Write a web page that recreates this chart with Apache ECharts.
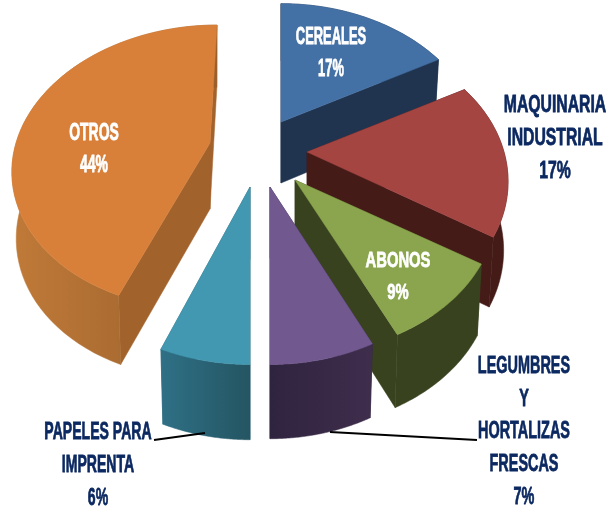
<!DOCTYPE html>
<html><head><meta charset="utf-8">
<script src="https://cdn.jsdelivr.net/npm/echarts@6/dist/echarts.min.js"></script>
<style>html,body{margin:0;padding:0;background:#fff}#c{width:608px;height:511px;filter:blur(0.5px)}</style>
</head><body><div id="c"></div>
<script>
// ---- data ----
const categories = ['CEREALES','MAQUINARIA INDUSTRIAL','ABONOS','LEGUMBRES Y HORTALIZAS FRESCAS','PAPELES PARA IMPRENTA','OTROS'];
const values = [17,17,9,7,6,44];
const labelLines = [['CEREALES','17%'],['MAQUINARIA','INDUSTRIAL','17%'],['ABONOS','9%'],['LEGUMBRES','Y','HORTALIZAS','FRESCAS','7%'],['PAPELES PARA','IMPRENTA','6%'],['OTROS','44%']];
// ---- look ----
const topColors = ['#4471a5','#a54542','#8aa54d','#71588f','#4198b0','#d8803a'];
const cutColors = ['#20344f','#451b18','#38421f','#2f2440','#2a6478','#a2622c'];
const rimColors = [['#20344f','#20344f'],['#451b18','#451b18'],['#38421f','#38421f'],['#2f2440','#3f2d4c'],['#2f7086','#245562'],['#c07a38','#985f2c']];
const textColors = ['#ffffff','#0b2860','#ffffff','#0b2860','#0b2860','#ffffff'];
// explode centre of every slice, perspective of the tilted disc
const apexX = [281,307,295,270,250,210];
const apexY = [122,152,180,187,187,143];
const skewX = [0,0,0,0,0,7];
const radX = [197,197,197,197,197,194];
const radY = [142,142,140,142,142,138];
const persp = [0.2,0.2,0.2,0.2,0.2,0.17];
const depth = [61,68,70,71,72,66];
const DEPTH_V = 5, LOW_SCALE = 0.978;
const labelX = [331,555,398,524,98,94];
const labelY = [37,105,261,366,432,133];
const labelGap = [32,33,32,32.7,33,32];
const labelSize = [17,19,17,19,19,17];
const labelScaleX = [0.76,0.83,0.87,0.76,0.74,0.82];
const labelScaleY = [1.4,1.3,1.35,1.3,1.3,1.45];
const leaderA = [null,null,null,[330,432],[205,433],null];
const leaderB = [null,null,null,[477,440],[154,440],null];

function project(i,deg){
  const t=deg*Math.PI/180,u=Math.sin(t),v=Math.cos(t),w=1+persp[i]*v;
  return {x:radX[i]*u/w+skewX[i]*v, y:-radY[i]*v/w, v};
}
function topPt(i,deg){const p=project(i,deg);return [apexX[i]+p.x,apexY[i]+p.y];}
function lowPt(i,deg){const p=project(i,deg);return [apexX[i]+p.x*LOW_SCALE,apexY[i]+p.y*0.99+depth[i]-DEPTH_V*p.v];}
const total=values.reduce((a,b)=>a+b,0);

function renderItem(params,api){
  const i=params.dataIndex;
  let a0=0;for(let k=0;k<i;k++)a0+=values[k]/total*360;
  const a1=a0+api.value(0)/total*360;
  const arcT=[],arcB=[];
  for(let s=0;s<=60;s++){const d=a0+(a1-a0)*s/60;arcT.push(topPt(i,d));arcB.push(lowPt(i,d));}
  const ax=apexX[i],ay=apexY[i],low=[ax,ay+depth[i]];
  const children=[];
  const poly=(pts,fill)=>children.push({type:'polygon',shape:{points:pts},style:{fill,stroke:fill,lineWidth:0.5}});
  const rim=()=>poly(arcT.concat(arcB.slice().reverse()),new echarts.graphic.LinearGradient(0,0,1,0,[{offset:0,color:rimColors[i][0]},{offset:1,color:rimColors[i][1]}]));
  // the slice on the far side shows its rim behind the cut faces, all others in front of them
  if(a0===0&&a1<180)rim();
  poly([[ax,ay],low,arcB[0],arcT[0]],cutColors[i]);
  poly([[ax,ay],low,arcB[60],arcT[60]],cutColors[i]);
  if(!(a0===0&&a1<180))rim();
  poly([[ax,ay]].concat(arcT),topColors[i]);
  if(leaderA[i])children.push({type:'polyline',shape:{points:[leaderA[i],leaderB[i]]},style:{stroke:'#000',lineWidth:2,fill:null}});
  labelLines[i].forEach((line,n)=>{
    children.push({type:'text',x:labelX[i],y:labelY[i]+n*labelGap[i],scaleX:labelScaleX[i],scaleY:labelScaleY[i],
      style:{text:line,fontFamily:'"Liberation Sans Narrow","Liberation Sans",sans-serif',fontWeight:'bold',fontSize:labelSize[i],fill:textColors[i],stroke:textColors[i],lineWidth:0.6,align:'center',verticalAlign:'middle'}});
  });
  return {type:'group',children};
}
const chart=echarts.init(document.getElementById('c'),null,{renderer:'canvas'});
chart.setOption({animation:false,backgroundColor:'#fff',
  series:[{type:'custom',coordinateSystem:'none',renderItem,silent:true,
    data:categories.map((name,i)=>({name,value:[values[i]]}))}]});
</script></body></html>
